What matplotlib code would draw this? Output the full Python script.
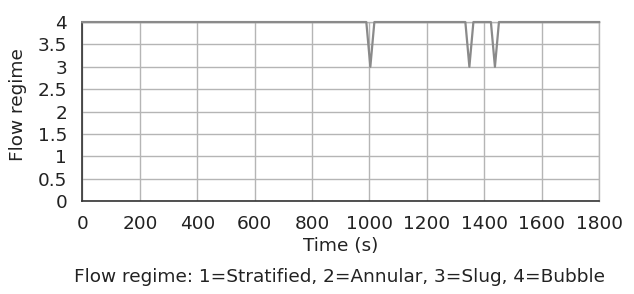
import matplotlib
matplotlib.use("Agg")
import matplotlib.pyplot as plt

time_s = [0, 989, 1003, 1017, 1334, 1348, 1362, 1423, 1437, 1451, 1800]
regime = [4, 4, 3, 4, 4, 3, 4, 4, 3, 4, 4]
xticks = [0, 200, 400, 600, 800, 1000, 1200, 1400, 1600, 1800]
yticks = [0, 0.5, 1, 1.5, 2, 2.5, 3, 3.5, 4]
ytick_labels = ["0", "0.5", "1", "1.5", "2", "2.5", "3", "3.5", "4"]

plt.rcParams['font.family'] = ['DejaVu Sans']

fig = plt.figure(figsize=(6.34, 2.94), dpi=100)
ax = fig.add_axes([0.130, 0.316, 0.815, 0.609])

fs = 13.3
ax.plot(time_s, regime, color='#8a8a8a', lw=1.6, zorder=3, clip_on=False)
ax.set_xlim(0, 1800)
ax.set_ylim(0, 4)
ax.set_xticks(xticks)
ax.set_yticks(yticks)
ax.set_yticklabels(ytick_labels)
ax.grid(True, color='#b5b5b5', lw=1.0)
ax.tick_params(length=0, labelsize=fs, colors='#222222')
ax.tick_params(axis='x', pad=10)
ax.tick_params(axis='y', pad=11)
for s in ['top', 'right']:
    ax.spines[s].set_color('#b5b5b5')
    ax.spines[s].set_linewidth(1.0)
for s in ['left', 'bottom']:
    ax.spines[s].set_color('#333333')
    ax.spines[s].set_linewidth(1.2)
ax.set_xlabel('Time (s)', fontsize=fs, color='#222222', labelpad=3)
ax.set_ylabel('Flow regime', fontsize=fs, color='#222222')
ax.yaxis.set_label_coords(-0.108, 0.54)
fig.text(0.535, 0.058, 'Flow regime: 1=Stratified, 2=Annular, 3=Slug, 4=Bubble',
         ha='center', va='center', fontsize=fs, color='#222222')

fig.savefig('out.png', dpi=100)
